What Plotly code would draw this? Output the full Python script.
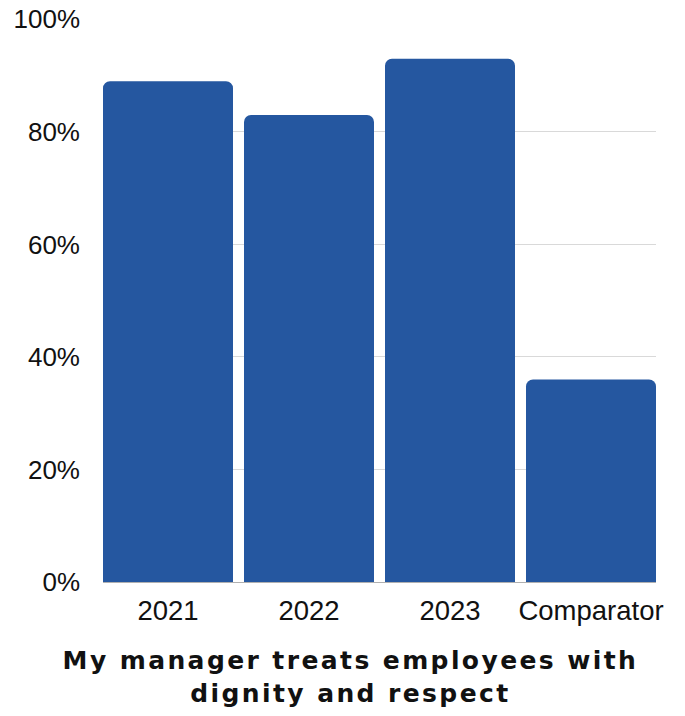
import plotly.graph_objects as go

categories = ["2021", "2022", "2023", "Comparator"]
values = [89, 83, 93, 36]
y_ticks = [0, 20, 40, 60, 80, 100]
y_tick_labels = ["0%", "20%", "40%", "60%", "80%", "100%"]
title_text = "My manager treats employees with<br>dignity and respect"

fig = go.Figure(go.Bar(
    x=categories, y=values,
    marker=dict(color="#2557A0", line=dict(width=0)),
    marker_cornerradius=7,
))

bargap = 0.078
fig.update_layout(
    width=685, height=716,
    margin=dict(l=103, r=29, t=19, b=134),
    paper_bgcolor="white", plot_bgcolor="white",
    bargap=bargap,
    showlegend=False,
    font=dict(family="Liberation Sans, Arial", size=26, color="#111111"),
)
fig.update_yaxes(
    range=[0, 100.06], tickvals=y_ticks, ticktext=y_tick_labels,
    showgrid=True, gridcolor="#d9d9d9", gridwidth=1,
    zeroline=False, showline=False, ticks="",
    ticklabelstandoff=22, automargin=False,
    tickfont=dict(family="Liberation Sans, Arial", size=26, color="#111111"),
)
fig.update_xaxes(
    range=[-0.5 + bargap / 2, len(categories) - 0.5 - bargap / 2],
    showline=True, linecolor="#b0b0b0", linewidth=1,
    ticks="", automargin=False, ticklabelstandoff=4,
    tickfont=dict(family="Liberation Sans, Arial", size=27.5, color="#111111"),
)
fig.add_annotation(
    text="<b>" + title_text + "</b>",
    xref="paper", yref="paper", x=0.447, y=0, yshift=-95,
    xanchor="center", yanchor="middle", showarrow=False,
    font=dict(family="DejaVu Sans", size=25, color="#111111"),
)

post = """
var gd = document.getElementsByClassName('plotly-graph-div')[0];
gd.querySelectorAll('.annotation-text').forEach(function(t){ t.style.letterSpacing = '2.4px'; });
"""
fig.write_html("out.html", post_script=post)
